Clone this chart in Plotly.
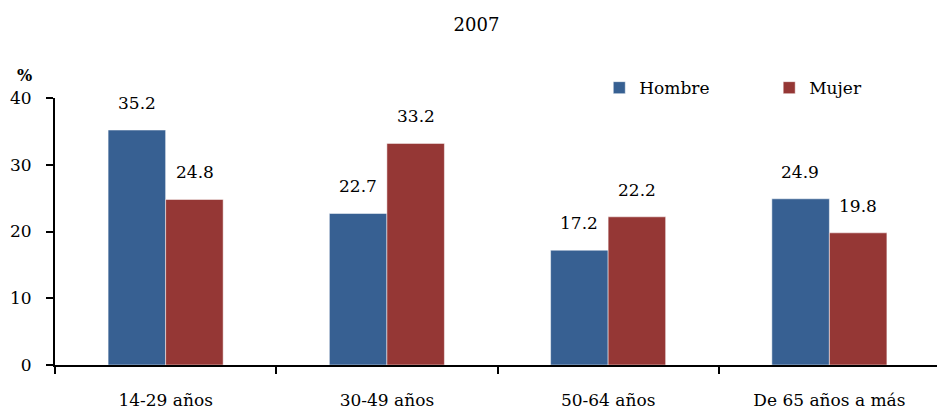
import plotly.graph_objects as go

categorias = ['14-29 años', '30-49 años', '50-64 años', 'De 65 años a más']
hombre = [35.2, 22.7, 17.2, 24.9]
mujer = [24.8, 33.2, 22.2, 19.8]

azul = '#376092'
rojo = '#953735'
fuente = 'DejaVu Serif'

fig = go.Figure()
fig.add_trace(go.Bar(x=categorias, y=hombre, name='Hombre', marker_color=azul, legend='legend'))
fig.add_trace(go.Bar(x=categorias, y=mujer, name='Mujer', marker_color=rojo, legend='legend2'))

# etiquetas de valor, algo separadas de la barra como en el original
for serie, desplazamiento in [(hombre, -29), (mujer, 29)]:
    for cat, val in zip(categorias, serie):
        fig.add_annotation(x=cat, y=val, text=f'{val:.1f}', showarrow=False,
                           xshift=desplazamiento, yshift=27, yanchor='middle',
                           font=dict(family=fuente, size=17, color='black'))

fig.add_annotation(xref='paper', yref='paper', x=-0.034, y=1.086, text='<b>%</b>',
                   showarrow=False, xanchor='center', yanchor='middle',
                   font=dict(family=fuente, size=16, color='black'))

ley = dict(orientation='h', y=1.037, yanchor='middle', xanchor='left',
           font=dict(family=fuente, size=17, color='black'), itemwidth=30,
           bgcolor='rgba(0,0,0,0)')

fig.update_layout(
    width=937, height=403,
    template='plotly_white',
    paper_bgcolor='white', plot_bgcolor='white',
    font=dict(family=fuente, size=17, color='black'),
    title=dict(text='2007', x=0.5, xanchor='center', y=0.958, yanchor='middle',
               font=dict(family=fuente, size=18, color='black')),
    margin=dict(l=47, r=5, t=90, b=46),
    barmode='group', bargap=0.48, bargroupgap=0,
    showlegend=True,
    legend=dict(ley, x=0.615),
    legend2=dict(ley, x=0.807),
)
fig.update_yaxes(range=[0, 40], dtick=10, showgrid=False, zeroline=False,
                 showline=True, linecolor='black', linewidth=2, automargin=False,
                 ticks='outside', ticklen=7, tickwidth=2, tickcolor='black',
                 ticklabelstandoff=11)
fig.update_xaxes(showgrid=False, showline=True, linecolor='black', linewidth=2,
                 automargin=False,
                 ticks='outside', tickson='boundaries', ticklen=7, tickwidth=2,
                 tickcolor='black', ticklabelstandoff=19)

fig.write_html('out.html')
